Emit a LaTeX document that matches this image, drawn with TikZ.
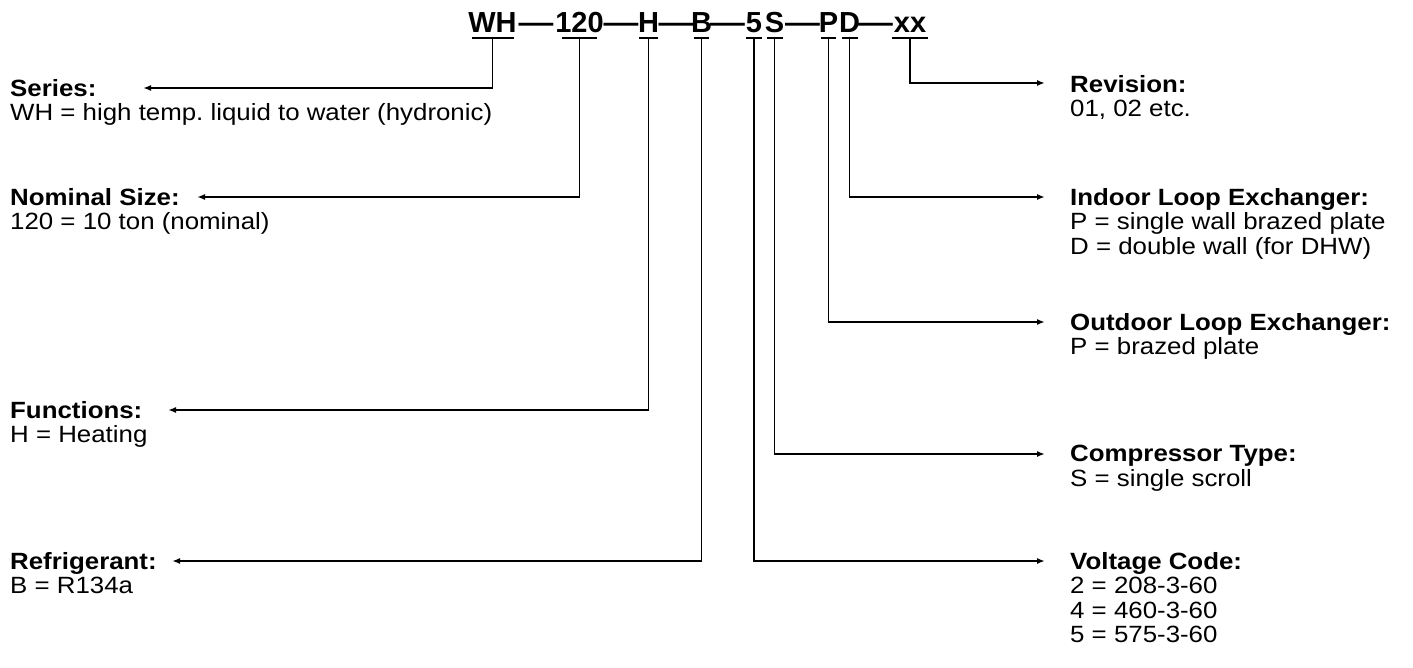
\documentclass[tikz,border=0pt]{standalone}
\usepackage{fontspec}
\setmainfont{Liberation Sans}
\newfontfamily\labfont[FakeStretch=1.1]{Liberation Sans}
\usetikzlibrary{arrows.meta,calc}
\newcommand{\wdash}{\scalebox{1.2}[1]{—}}
\frenchspacing
\begin{document}
\begin{tikzpicture}[x=1pt,y=-1pt,
  code/.style={inner sep=0pt, anchor=base, font=\fontsize{29}{29}\selectfont\bfseries},
  lab/.style={inner sep=0pt, anchor=north west, align=left, font=\labfont\fontsize{23.5}{24.5}\selectfont},
  ln/.style={line width=1.6pt},
  arr/.style={ln, -{Latex[length=8pt,width=6pt]}}]
\useasboundingbox[fill=white] (0,0) rectangle (1413,668);

% code string
\node[code] (cWH)  at (492.5,33) {WH};
\node[code] (d1)   at (536,33) {\wdash};
\node[code] (c120) at (579.5,33) {120};
\node[code] (d2)   at (621,33) {\wdash};
\node[code] (cH)   at (648.5,33) {H};
\node[code] (d3)   at (676,33) {\wdash};
\node[code] (cB)   at (701.5,33) {B};
\node[code] (d4)   at (727.5,33) {\wdash};
\node[code] (c5)   at (754,33) {5};
\node[code] (cS)   at (774.5,33) {S};
\node[code] (d5)   at (802.5,33) {\wdash};
\node[code] (cP)   at (828.5,33) {P};
\node[code] (cD)   at (849.5,33) {D};
\node[code] (d6)   at (875.5,33) {\wdash};
\node[code] (cxx)  at (910,33) {xx};

% underline bars
\foreach \n/\w in {cWH/21,c120/17.5,cH/9.5,cB/7.5,c5/8,cS/8,cP/7.5,cD/8,cxx/18}{
  \draw[ln] ($(\n.base)+(-\w,5)$) -- ($(\n.base)+(\w,5)$);
}

% arrow tips
\coordinate (tSer) at (143,88);
\coordinate (tNom) at (197,197);
\coordinate (tFun) at (168,410);
\coordinate (tRef) at (172,561);
\coordinate (tRev) at (1045,83);
\coordinate (tInd) at (1045,197);
\coordinate (tOut) at (1045,322);
\coordinate (tCom) at (1045,454);
\coordinate (tVol) at (1045,561);

% connectors
\draw[arr] ($(cWH.base)+(0,5)$)  |- (tSer);
\draw[arr] ($(c120.base)+(0,5)$) |- (tNom);
\draw[arr] ($(cH.base)+(0,5)$)   |- (tFun);
\draw[arr] ($(cB.base)+(0,5)$)   |- (tRef);
\draw[arr] ($(cxx.base)+(0,5)$)  |- (tRev);
\draw[arr] ($(cD.base)+(0,5)$)   |- (tInd);
\draw[arr] ($(cP.base)+(0,5)$)   |- (tOut);
\draw[arr] ($(cS.base)+(0,5)$)   |- (tCom);
\draw[arr] ($(c5.base)+(0,5)$)   |- (tVol);

% left labels
\node[lab] (lSer) at (10,79)  {\textbf{Series:}\\WH = high temp. liquid to water (hydronic)};
\node[lab] (lNom) at (10,188) {\textbf{Nominal Size:}\\120 = 10 ton (nominal)};
\node[lab] (lFun) at (10,401) {\textbf{Functions:}\\H = Heating};
\node[lab] (lRef) at (10,552) {\textbf{Refrigerant:}\\B = R134a};

% right labels
\node[lab] (lRev) at (1070,75)  {\textbf{Revision:}\\01, 02 etc.};
\node[lab] (lInd) at (1070,188) {\textbf{Indoor Loop Exchanger:}\\P = single wall brazed plate\\D = double wall (for DHW)};
\node[lab] (lOut) at (1070,313) {\textbf{Outdoor Loop Exchanger:}\\P = brazed plate};
\node[lab] (lCom) at (1070,445) {\textbf{Compressor Type:}\\S = single scroll};
\node[lab] (lVol) at (1070,552) {\textbf{Voltage Code:}\\2 = 208-3-60\\4 = 460-3-60\\5 = 575-3-60};
\end{tikzpicture}
\end{document}
